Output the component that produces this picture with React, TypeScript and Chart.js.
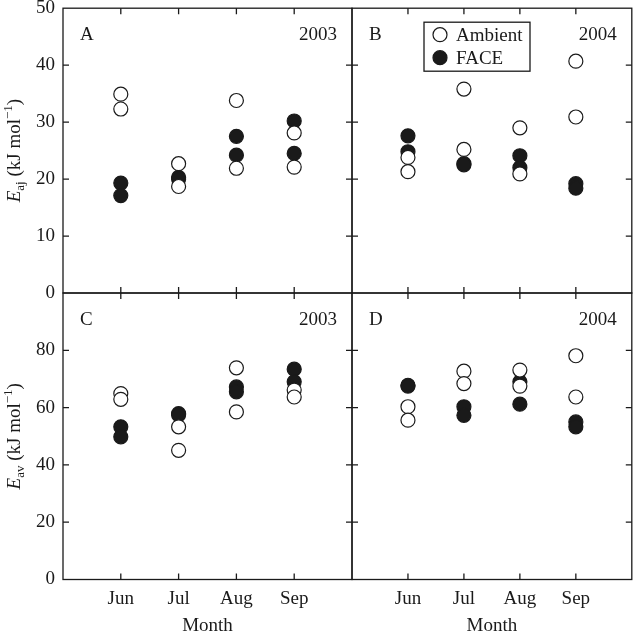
import React, { useEffect, useRef } from 'react';
import { Chart, registerables } from 'chart.js';

Chart.register(...registerables);

// ---------- data ----------
const months = ['Jun', 'Jul', 'Aug', 'Sep'];

// E_aj (kJ mol-1), two replicate values per month
const ambientA = [[34.9, 32.3], [22.7, 18.7], [33.8, 21.9], [28.1, 22.1]];
const faceA = [[19.3, 17.1], [20.3, 20.0], [27.5, 24.2], [30.2, 24.5]];
const ambientB = [[23.8, 21.3], [35.8, 25.2], [29.0, 20.9], [40.7, 30.9]];
const faceB = [[27.6, 24.8], [22.7, 22.5], [24.1, 22.0], [19.2, 18.4]];

// E_av (kJ mol-1)
const ambientC = [[64.9, 62.9], [53.3, 45.1], [73.9, 58.5], [66.1, 63.7]];
const faceC = [[53.3, 49.8], [57.9, 57.5], [67.2, 65.5], [73.4, 69.0]];
const ambientD = [[60.3, 55.6], [72.7, 68.4], [73.1, 67.5], [78.1, 63.7]];
const faceD = [[67.8, 67.5], [60.3, 57.3], [69.0, 61.2], [55.0, 53.3]];

const topYTicks = [0, 10, 20, 30, 40, 50];
const bottomYTicks = [0, 20, 40, 60, 80, 100];
const seriesLabels = ['Ambient', 'FACE'];

// ---------- style ----------
const FONT = '"Liberation Serif", "Times New Roman", Times, serif';
const INK = '#1a1a1a';
const W = 640;
const H = 633;
const COLS = [63, 352, 637];
const ROWS = [7, 293, 579.5];

type Panel = {
  letter: string;
  year: string;
  ambient: number[][];
  face: number[][];
  yTicks: number[];
  sub: string;
  col: number;
  row: number;
  legend: boolean;
};

const panels: Panel[] = [
  { letter: 'A', year: '2003', ambient: ambientA, face: faceA, yTicks: topYTicks, sub: 'aj', col: 0, row: 0, legend: false },
  { letter: 'B', year: '2004', ambient: ambientB, face: faceB, yTicks: topYTicks, sub: 'aj', col: 1, row: 0, legend: true },
  { letter: 'C', year: '2003', ambient: ambientC, face: faceC, yTicks: bottomYTicks, sub: 'av', col: 0, row: 1, legend: false },
  { letter: 'D', year: '2004', ambient: ambientD, face: faceD, yTicks: bottomYTicks, sub: 'av', col: 1, row: 1, legend: false },
];

function toPoints(groups: number[][]) {
  return groups.flatMap((vals, i) => vals.map((v) => ({ x: i + 1, y: v })));
}

function panelPlugin(p: Panel) {
  return {
    id: 'panelDecor' + p.letter,
    afterDraw(chart: any) {
      const { ctx, chartArea: a, scales } = chart;
      ctx.save();
      ctx.strokeStyle = INK;
      ctx.lineWidth = 1.3;
      ctx.strokeRect(a.left, a.top, a.right - a.left, a.bottom - a.top);
      const tl = 6;
      ctx.beginPath();
      months.forEach((_, i) => {
        const px = scales.x.getPixelForValue(i + 1);
        ctx.moveTo(px, a.bottom);
        ctx.lineTo(px, a.bottom - tl);
        ctx.moveTo(px, a.top);
        ctx.lineTo(px, a.top + tl);
      });
      p.yTicks.slice(1, -1).forEach((v) => {
        const py = scales.y.getPixelForValue(v);
        ctx.moveTo(a.left, py);
        ctx.lineTo(a.left + tl, py);
        ctx.moveTo(a.right, py);
        ctx.lineTo(a.right - tl, py);
      });
      ctx.stroke();

      ctx.fillStyle = INK;
      ctx.font = `19px ${FONT}`;
      ctx.textBaseline = 'alphabetic';
      ctx.textAlign = 'left';
      ctx.fillText(p.letter, a.left + 17, a.top + 32);
      ctx.textAlign = 'right';
      ctx.fillText(p.year, a.right - 15, a.top + 32);

      if (p.legend) {
        const bx = a.left + 72;
        const by = a.top + 14;
        const bw = 106;
        const bh = 49;
        ctx.lineWidth = 1.3;
        ctx.strokeRect(bx, by, bw, bh);
        const ds = chart.data.datasets;
        ds.forEach((d: any, i: number) => {
          const cy = by + 12.5 + i * 23;
          const cx = bx + 16;
          ctx.beginPath();
          ctx.arc(cx, cy, 7, 0, Math.PI * 2);
          ctx.fillStyle = d.pointBackgroundColor;
          ctx.fill();
          ctx.lineWidth = d.pointBorderWidth;
          ctx.strokeStyle = d.pointBorderColor;
          ctx.stroke();
          ctx.fillStyle = INK;
          ctx.font = `19px ${FONT}`;
          ctx.textAlign = 'left';
          ctx.textBaseline = 'middle';
          ctx.fillText(d.label, bx + 32, cy + 1);
        });
      }

      if (p.col === 0) {
        const parts = [
          { t: 'E', f: `italic 19px ${FONT}`, dy: 0 },
          { t: p.sub, f: `13px ${FONT}`, dy: 4 },
          { t: ' (kJ mol', f: `19px ${FONT}`, dy: 0 },
          { t: '\u22121', f: `13px ${FONT}`, dy: -8 },
          { t: ')', f: `19px ${FONT}`, dy: 0 },
        ];
        let total = 0;
        const widths = parts.map((pt) => {
          ctx.font = pt.f;
          const w = ctx.measureText(pt.t).width;
          total += w;
          return w;
        });
        ctx.translate(20, (a.top + a.bottom) / 2);
        ctx.rotate(-Math.PI / 2);
        ctx.textAlign = 'left';
        ctx.textBaseline = 'alphabetic';
        ctx.fillStyle = INK;
        let x = -total / 2;
        parts.forEach((pt, i) => {
          ctx.font = pt.f;
          ctx.fillText(pt.t, x, pt.dy);
          x += widths[i];
        });
      }
      ctx.restore();
    },
  };
}

function PanelChart({ p }: { p: Panel }) {
  const ref = useRef<HTMLCanvasElement | null>(null);
  useEffect(() => {
    if (!ref.current) return;
    const isLeft = p.col === 0;
    const isBottom = p.row === 1;
    const yMax = p.yTicks[p.yTicks.length - 1];
    const yStep = p.yTicks[1] - p.yTicks[0];
    const chart = new Chart(ref.current, {
      type: 'scatter',
      data: {
        datasets: [
          {
            label: seriesLabels[0],
            data: toPoints(p.ambient),
            pointStyle: 'circle',
            pointRadius: 7,
            pointBackgroundColor: '#ffffff',
            pointBorderColor: INK,
            pointBorderWidth: 1.2,
          },
          {
            label: seriesLabels[1],
            data: toPoints(p.face),
            pointStyle: 'circle',
            pointRadius: 7,
            pointBackgroundColor: INK,
            pointBorderColor: INK,
            pointBorderWidth: 1.2,
          },
        ],
      },
      options: {
        responsive: false,
        animation: false,
        events: [],
        clip: false as any,
        layout: {
          padding: {
            left: isLeft ? 0 : COLS[1],
            right: W - COLS[p.col + 1],
            top: ROWS[p.row],
            bottom: isBottom ? 0 : H - ROWS[p.row + 1],
          },
        },
        plugins: {
          legend: { display: false },
          tooltip: { enabled: false },
        },
        scales: {
          x: {
            type: 'linear',
            min: 0,
            max: months.length + 1,
            display: isBottom,
            grid: { display: false, drawTicks: false },
            border: { display: false },
            ticks: {
              stepSize: 1,
              autoSkip: false,
              maxRotation: 0,
              padding: 8,
              color: INK,
              font: { family: FONT, size: 19 },
              callback: (v: any) => months[Number(v) - 1] ?? '',
            },
            title: {
              display: true,
              text: 'Month',
              color: INK,
              font: { family: FONT, size: 19, lineHeight: 0.75 },
              padding: 0,
            },
            afterFit: (s: any) => {
              if (!isBottom) return;
              s.height = H - ROWS[2];
              s.paddingLeft = 0;
              s.paddingRight = 0;
            },
          },
          y: {
            type: 'linear',
            min: 0,
            max: yMax,
            display: isLeft,
            grid: { display: false, drawTicks: false },
            border: { display: false },
            ticks: {
              stepSize: yStep,
              padding: 8,
              color: INK,
              font: { family: FONT, size: 19 },
              callback: (v: any) => (Number(v) === 100 ? '' : String(v)),
            },
            afterFit: (s: any) => {
              if (!isLeft) return;
              s.width = COLS[0];
              s.paddingTop = 0;
              s.paddingBottom = 0;
            },
          },
        },
      },
      plugins: [panelPlugin(p)],
    } as any);
    return () => chart.destroy();
  }, [p]);
  return (
    <canvas
      ref={ref}
      width={W}
      height={H}
      style={{ position: 'absolute', left: 0, top: 0, width: W, height: H }}
    />
  );
}

export default function App() {
  return (
    <div style={{ position: 'fixed', left: 0, top: 0, width: W, height: H, background: '#ffffff', overflow: 'hidden' }}>
      {panels.map((p) => (
        <PanelChart key={p.letter} p={p} />
      ))}
    </div>
  );
}
